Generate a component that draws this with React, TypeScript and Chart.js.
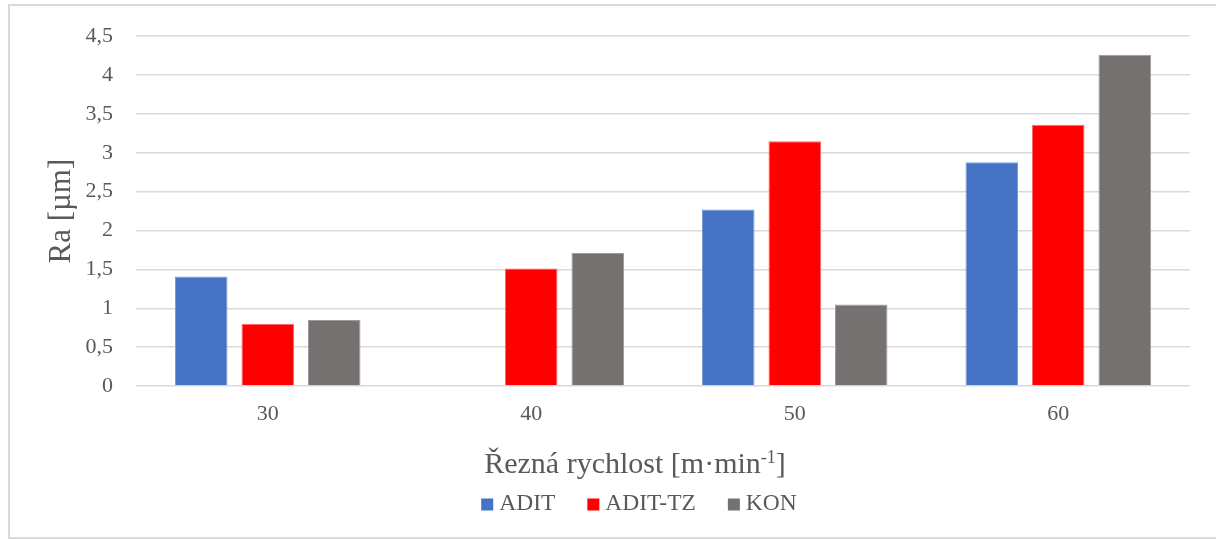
import React, { useEffect, useRef } from 'react';
import { Chart, registerables } from 'chart.js';

Chart.register(...registerables);

const categories = ['30', '40', '50', '60'];
const aditValues = [1.41, null, 2.27, 2.88];
const aditTzValues = [0.8, 1.51, 3.15, 3.36];
const konValues = [0.85, 1.71, 1.05, 4.26];
const seriesNames = ['ADIT', 'ADIT-TZ', 'KON'];
const seriesColors = ['#4472C4', '#FF0000', '#767171'];
const seriesBorders = ['#7b9bd6', '#ff6a6a', '#a09c9c'];
const yMin = 0;
const yMax = 4.5;
const yStep = 0.5;
const yTitle = 'Ra [µm]';
const xTitleMain = 'Řezná rychlost [m·min';
const xTitleSup = '-1';
const xTitleEnd = ']';

const FONT = '"Liberation Serif", "Times New Roman", serif';
const TEXT = '#595959';

const overlayPlugin = {
  id: 'overlay',
  afterDraw(chart: any) {
    const { ctx, chartArea } = chart;
    ctx.save();
    ctx.fillStyle = TEXT;
    ctx.textBaseline = 'middle';
    ctx.textAlign = 'left';

    // x-axis title with superscript
    const mainFont = `30px ${FONT}`;
    const supFont = `18px ${FONT}`;
    ctx.font = mainFont;
    const w1 = ctx.measureText(xTitleMain).width;
    const w3 = ctx.measureText(xTitleEnd).width;
    ctx.font = supFont;
    const w2 = ctx.measureText(xTitleSup).width;
    const titleCx = (chartArea.left - 56 + chartArea.right) / 2;
    const titleY = chartArea.bottom + 79.5;
    let x = titleCx - (w1 + w2 + w3) / 2;
    ctx.font = mainFont;
    ctx.fillText(xTitleMain, x, titleY);
    x += w1;
    ctx.font = supFont;
    ctx.fillText(xTitleSup, x, titleY - 7);
    x += w2;
    ctx.font = mainFont;
    ctx.fillText(xTitleEnd, x, titleY);

    // legend
    const legFont = `23.5px ${FONT}`;
    ctx.font = legFont;
    const box = 12;
    const gapText = 6;
    const gapItem = 32;
    const datasets = chart.data.datasets;
    const widths = datasets.map((d: any) => ctx.measureText(d.label).width);
    let total = 0;
    widths.forEach((w: number, i: number) => {
      total += box + gapText + w + (i < widths.length - 1 ? gapItem : 0);
    });
    const legCx = titleCx + 4;
    const legY = chartArea.bottom + 118;
    let lx = legCx - total / 2;
    datasets.forEach((d: any, i: number) => {
      ctx.fillStyle = d.backgroundColor;
      ctx.fillRect(lx, legY - box / 2 + 0.5, box, box);
      ctx.fillStyle = TEXT;
      ctx.fillText(d.label, lx + box + gapText, legY);
      lx += box + gapText + widths[i] + gapItem;
    });
    ctx.restore();
  },
};

export default function App() {
  const canvasRef = useRef<HTMLCanvasElement | null>(null);

  useEffect(() => {
    if (!canvasRef.current) return;
    const seriesValues = [aditValues, aditTzValues, konValues];
    const chart = new Chart(canvasRef.current, {
      type: 'bar',
      data: {
        labels: categories,
        datasets: seriesNames.map((name, i) => ({
          label: name,
          data: seriesValues[i],
          backgroundColor: seriesColors[i],
          borderColor: seriesBorders[i],
          borderWidth: 1,
          categoryPercentage: 0.757,
          barPercentage: 0.79,
        })),
      },
      options: {
        animation: false,
        responsive: true,
        maintainAspectRatio: false,
        layout: {
          padding: { left: 40, right: 26, top: 35, bottom: 96.6 },
        },
        plugins: {
          legend: { display: false },
          tooltip: { enabled: false },
        },
        scales: {
          x: {
            grid: { display: false, drawTicks: false },
            border: { display: false },
            ticks: {
              color: TEXT,
              padding: 15,
              font: { family: FONT, size: 22 },
            },
          },
          y: {
            min: yMin,
            max: yMax,
            afterFit: (scale: any) => {
              scale.width = 96;
            },
            ticks: {
              stepSize: yStep,
              color: TEXT,
              padding: 23,
              font: { family: FONT, size: 22 },
              callback: (v: any) => String(Number(v)).replace('.', ','),
            },
            grid: { color: '#d9d9d9', lineWidth: 1.5, drawTicks: false },
            border: { display: false },
            title: {
              display: true,
              text: yTitle,
              color: TEXT,
              font: { family: FONT, size: 31 },
              padding: { top: 3, bottom: 0 },
            },
          },
        },
      },
      plugins: [overlayPlugin],
    });
    return () => chart.destroy();
  }, []);

  return (
    <div style={{ position: 'fixed', left: 0, top: 0, width: 1216, height: 539, background: '#fff' }}>
      <canvas ref={canvasRef} />
      <div
        style={{
          position: 'absolute',
          left: 8,
          top: 4,
          width: 1230,
          height: 535,
          boxSizing: 'border-box',
          border: '2px solid #d9d9d9',
          pointerEvents: 'none',
        }}
      />
    </div>
  );
}
